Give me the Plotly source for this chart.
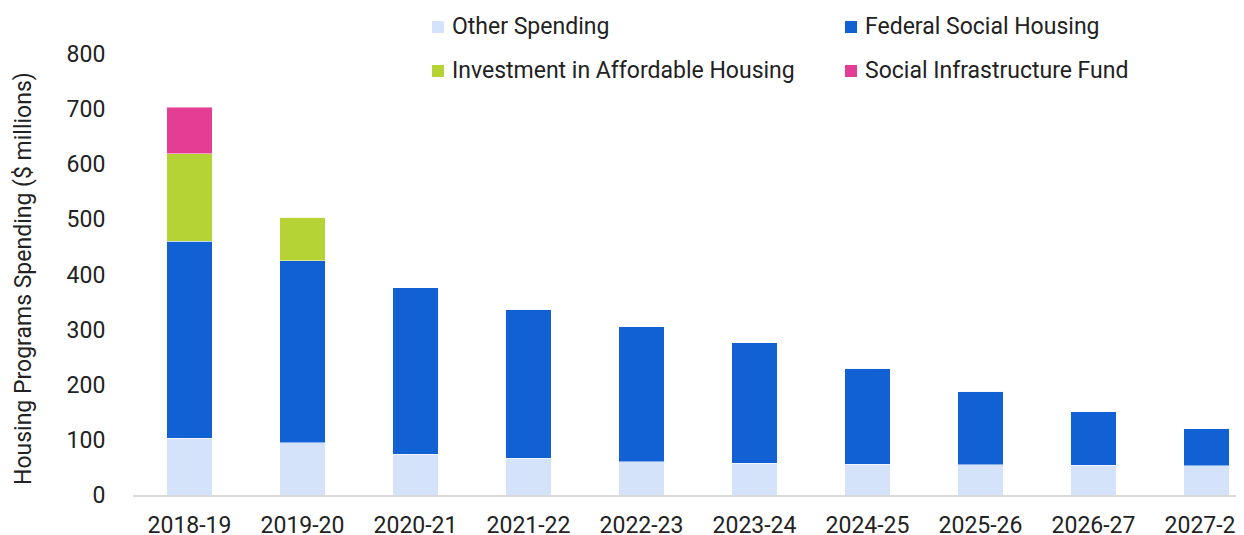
import plotly.graph_objects as go

categories = ["2018-19", "2019-20", "2020-21", "2021-22", "2022-23",
              "2023-24", "2024-25", "2025-26", "2026-27", "2027-28"]
other_spending = [103, 95, 74, 67, 60, 58, 56, 55, 54, 53]
federal_social_housing = [357, 330, 302, 270, 245, 218, 174, 133, 98, 68]
investment_affordable = [159, 79, 0, 0, 0, 0, 0, 0, 0, 0]
social_infrastructure = [84, 0, 0, 0, 0, 0, 0, 0, 0, 0]
y_ticks = [0, 100, 200, 300, 400, 500, 600, 700, 800]

FONT = "Roboto"
TXT = "#222222"
FS = 23

series_names = ["Other Spending", "Federal Social Housing",
                "Investment in Affordable Housing", "Social Infrastructure Fund"]
series_values = [other_spending, federal_social_housing,
                 investment_affordable, social_infrastructure]
series_colors = ["#d4e3fa", "#1161d5", "#b5d334", "#e33d94"]

# the page body has an 8px default margin, so work in figure coords = page - 8
OFF = 8
W, H = 1244 - OFF, 535 - OFF
plot_left = 133 - OFF
axis_y = 495 - OFF
top_y = 54 - OFF
px_per_cat = 113.0
x_hi = -0.5 + (W - plot_left) / px_per_cat
plot_h = axis_y
ydom_top = (axis_y - top_y) / plot_h


def py(pix):
    return (axis_y - (pix - OFF)) / plot_h


def px(pix):
    return ((pix - OFF) - plot_left) / (W - plot_left)


fig = go.Figure()
for name, vals, color in zip(series_names, series_values, series_colors):
    fig.add_trace(go.Bar(
        x=list(range(len(categories))), y=vals, name=name,
        marker=dict(color=color, line=dict(color="rgba(255,255,255,0.6)", width=0.8)),
        width=0.4, hoverinfo="skip", showlegend=False,
    ))

# legend drawn as a 2x2 grid of swatches and labels (page pixel positions)
legend_cols = [432, 845]
legend_rows = [27, 71]
shapes, annotations = [], []
for i, (name, color) in enumerate(zip(series_names, series_colors)):
    sx = legend_cols[i % 2]
    cy = legend_rows[i // 2]
    shapes.append(dict(
        type="rect", xref="paper", yref="paper",
        x0=px(sx), x1=px(sx + 12), y0=py(cy + 6), y1=py(cy - 6),
        fillcolor=color, line=dict(width=0), layer="above",
    ))
    annotations.append(dict(
        text=name, xref="paper", yref="paper", x=px(sx + 18), y=py(cy),
        xanchor="left", yanchor="middle", showarrow=False,
        font=dict(family=FONT, size=FS, color=TXT),
    ))

annotations.append(dict(
    text="Housing Programs Spending ($ millions)",
    xref="paper", yref="paper", x=px(23), y=py(279),
    xanchor="center", yanchor="middle", textangle=-90, showarrow=False,
    font=dict(family=FONT, size=FS, color=TXT),
))

fig.update_layout(
    barmode="stack",
    width=W, height=H,
    margin=dict(l=plot_left, r=0, t=0, b=H - axis_y, pad=0),
    paper_bgcolor="white", plot_bgcolor="white",
    font=dict(family=FONT, size=FS, color=TXT),
    showlegend=False,
    xaxis=dict(
        range=[-0.5, x_hi], tickmode="array",
        tickvals=list(range(len(categories))), ticktext=categories,
        showgrid=False, zeroline=False,
        showline=True, linecolor="#d9d9d9", linewidth=2,
        ticks="outside", ticklen=8, tickcolor="rgba(0,0,0,0)",
        tickfont=dict(family=FONT, size=FS, color=TXT),
        ticklabeloverflow="allow",
        automargin=False,
    ),
    yaxis=dict(
        domain=[0, ydom_top],
        range=[0, 800], tickmode="array", tickvals=y_ticks,
        showgrid=False, zeroline=False, showline=False,
        ticks="outside", ticklen=22, tickcolor="rgba(0,0,0,0)",
        tickfont=dict(family=FONT, size=FS, color=TXT),
        automargin=False,
    ),
    shapes=shapes,
    annotations=annotations,
)

fig.write_html("out.html")
